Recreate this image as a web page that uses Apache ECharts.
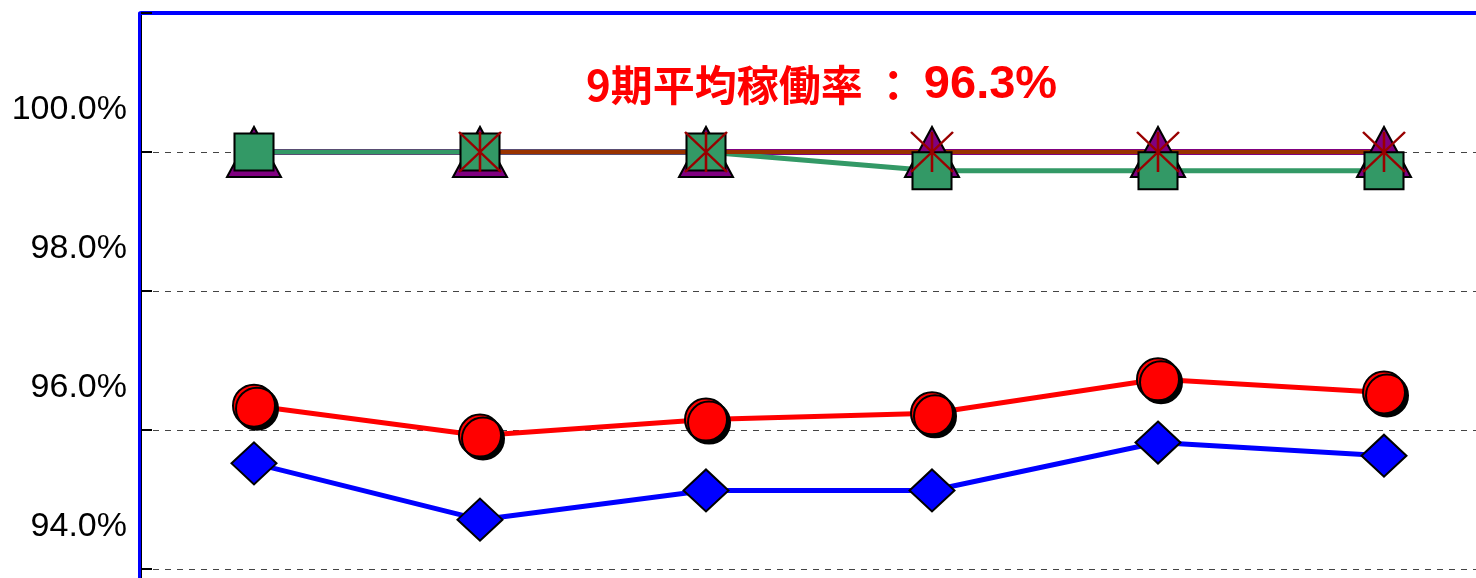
<!DOCTYPE html>
<html>
<head>
<meta charset="utf-8">
<script src="https://cdn.jsdelivr.net/npm/echarts@6/dist/echarts.min.js"></script>
<style>
  html, body { margin: 0; padding: 0; background: #fff; }
  #chart { width: 1476px; height: 578px; }
</style>
</head>
<body>
<div id="chart"></div>
<script>
// periods shown on the (cropped) x axis
const periods = ['4期', '5期', '6期', '7期', '8期', '9期']
// values in %
const rateRed = [96.35, 95.92, 96.15, 96.24, 96.73, 96.54]
const rateBlue = [95.52, 94.71, 95.13, 95.13, 95.82, 95.63]
const rateGreen = [100, 100, 100, 99.73, 99.73, 99.73]
const rateBrown = [null, 100, 100, 100, 100, 100]
const ratePurple = [100, 100, 100, 100, 100, 100]
const yTicks = [94, 96, 98, 100]
const avgRate = 96.3

const chart = echarts.init(document.getElementById('chart'))

const marker = (color) => ({ color: color, borderColor: '#000', borderWidth: 2 })

chart.setOption({
  animation: false,
  title: {
    left: 586,
    top: 60,
    padding: 0,
    text: '{a|9期平均稼働率 ： }{b|' + avgRate.toFixed(1) + '%}',
    textStyle: {
      rich: {
        a: { color: '#ff0000', fontSize: 42, fontWeight: 'bold', fontFamily: 'Noto Sans CJK JP', lineHeight: 50 },
        b: { color: '#ff0000', fontSize: 47, fontFamily: 'Liberation Sans', lineHeight: 50 }
      }
    }
  },
  // plot area runs past the right and bottom edges of the picture
  grid: { left: 141, top: 13, width: 1356, height: 695, outerBoundsMode: 'none', containLabel: false },
  xAxis: [{
    type: 'category',
    data: periods,
    boundaryGap: true,
    axisLine: { show: false },
    axisTick: { show: false },
    axisLabel: { show: false }
  }, {
    type: 'category',
    data: periods,
    position: 'top',
    axisLine: { lineStyle: { color: '#0000ff', width: 4 } },
    axisTick: { show: false },
    axisLabel: { show: false }
  }],
  yAxis: [{
    type: 'value',
    min: 92,
    max: 102,
    interval: 2,
    axisLine: { show: true, lineStyle: { color: '#000', width: 2 } },
    axisTick: { show: true, inside: true, length: 11, lineStyle: { color: '#000', width: 2 } },
    splitLine: { lineStyle: { color: '#444', width: 1, type: [6, 6] } },
    axisLabel: {
      color: '#000',
      fontSize: 34,
      fontFamily: 'Liberation Sans',
      margin: 14,
      lineHeight: 84,
      formatter: (v) => yTicks.includes(v) ? v.toFixed(1) + '%\n ' : ''
    }
  }, {
    type: 'value',
    min: 92,
    max: 102,
    interval: 2,
    position: 'left',
    offset: 2,
    axisLine: { show: true, lineStyle: { color: '#0000ff', width: 3 } },
    axisTick: { show: false },
    axisLabel: { show: false },
    splitLine: { show: false }
  }],
  series: [{
    name: '紫',
    type: 'line',
    data: ratePurple,
    symbol: 'triangle',
    symbolSize: [54, 50],
    lineStyle: { color: '#800080', width: 6 },
    itemStyle: marker('#800080')
  }, {
    name: '緑',
    type: 'line',
    data: rateGreen,
    symbol: 'rect',
    symbolSize: [39, 37],
    lineStyle: { color: '#339966', width: 5 },
    itemStyle: marker('#339966')
  }, {
    name: '茶',
    type: 'line',
    data: rateBrown,
    symbol: 'path://M0,0L10,10M10,0L0,10M5,0L5,10',
    symbolSize: [42, 40],
    lineStyle: { color: '#993300', width: 4 },
    itemStyle: { color: 'none', borderColor: '#990000', borderWidth: 2.5 }
  }, {
    name: '稼働率',
    type: 'line',
    data: rateRed,
    symbol: 'circle',
    symbolSize: 42,
    lineStyle: { color: '#ff0000', width: 5 },
    itemStyle: {
      color: '#ff0000', borderColor: '#000', borderWidth: 2,
      shadowColor: '#000', shadowOffsetX: 3, shadowOffsetY: 3, shadowBlur: 0
    }
  }, {
    name: '青',
    type: 'line',
    data: rateBlue,
    symbol: 'diamond',
    symbolSize: [45, 42],
    lineStyle: { color: '#0000ff', width: 5 },
    itemStyle: marker('#0000ff')
  }]
})
</script>
</body>
</html>
